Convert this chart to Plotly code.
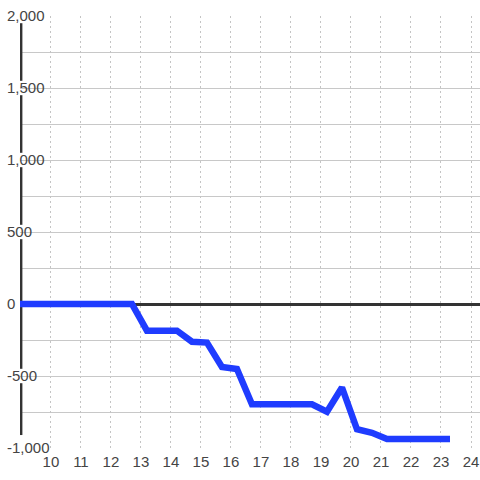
import plotly.graph_objects as go

# Data
hours = [8.9, 12.7, 13.2, 14.2, 14.7, 15.2, 15.7, 16.2, 16.7, 18.7, 19.2, 19.7, 20.2, 20.7, 21.2, 23.3]
values = [0, 0, -185, -185, -262, -268, -438, -451, -697, -697, -748, -580, -870, -894, -937, -937]

x_ticks = list(range(10, 25))
y_ticks = [-1000, -500, 0, 500, 1000, 1500, 2000]
y_tick_text = ["-1,000", "-500", "0", "500", "1,000", "1,500", "2,000"]

fig = go.Figure()
fig.add_trace(go.Scatter(
    x=hours, y=values, mode="lines",
    line=dict(color="#1f3cff", width=6.5),
    hoverinfo="skip", showlegend=False,
))

# thick left axis bar, broken where the labels sit
gap = 50
labelled = [v for v in y_ticks if v != 0]
segments = []
for a, b in zip(labelled[:-1], labelled[1:]):
    segments.append((a + gap + (40 if a == y_ticks[0] else 0), b - gap))
for y0, y1 in segments:
    fig.add_shape(type="line", xref="x", yref="y", x0=9, x1=9, y0=y0, y1=y1,
                  line=dict(color="#333333", width=3), layer="between")

fig.update_layout(
    width=480, height=480,
    margin=dict(l=20, r=0, t=16, b=32, autoexpand=False),
    paper_bgcolor="white", plot_bgcolor="white",
    font=dict(family="Liberation Sans, Arial, sans-serif", size=15, color="#444444"),
    showlegend=False,
)
fig.update_xaxes(
    range=[8.97, 24.3],
    tickvals=x_ticks,
    ticktext=[str(t) for t in x_ticks],
    showgrid=True, gridcolor="#c4c4c4", gridwidth=1, griddash="2px,3px",
    zeroline=False, showline=False, ticks="",
    ticklabelstandoff=3,
    automargin=False, fixedrange=True,
)
fig.update_yaxes(
    range=[-1000, 2000],
    tickvals=y_ticks, ticktext=y_tick_text,
    ticklabelposition="inside", ticklabelstandoff=-16, ticklabeloverflow="allow",
    showgrid=True, gridcolor="#c8c8c8", gridwidth=1,
    minor=dict(dtick=250, tick0=0, showgrid=True, gridcolor="#c8c8c8", gridwidth=1),
    zeroline=True, zerolinecolor="#333333", zerolinewidth=3,
    showline=False, ticks="",
    automargin=False, fixedrange=True,
)

fig.write_html("out.html", config={"displayModeBar": False},
               post_script="document.body.style.margin='0';document.body.style.overflow='hidden';")
